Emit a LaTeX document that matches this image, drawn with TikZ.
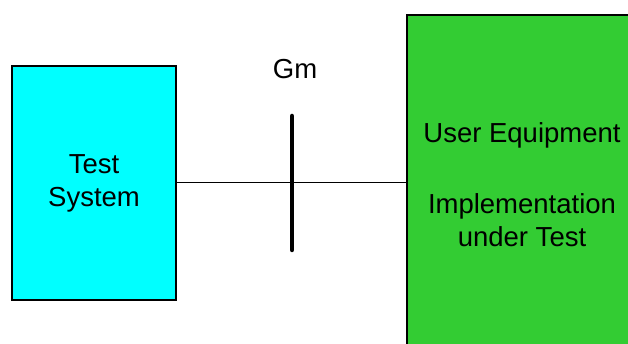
\documentclass[tikz,border=0pt]{standalone}
\usepackage{fontspec}
\setmainfont{Liberation Sans}
\definecolor{tscyan}{HTML}{00FFFF}
\definecolor{uegreen}{HTML}{33CC33}
\begin{document}
\begin{tikzpicture}[x=1pt,y=-1pt,
  boxstyle/.style={draw=black,line width=1.3pt,inner sep=0pt,align=center,
    font=\fontsize{27.5}{33}\selectfont},
  lbl/.style={font=\fontsize{27.5}{33}\selectfont,inner sep=0pt}]
\useasboundingbox (0,0) rectangle (628,344);
\node[boxstyle,fill=tscyan,minimum width=164pt,minimum height=234pt] (ts) at (94,183) {Test\\System};
\node[boxstyle,fill=uegreen,minimum width=230pt,minimum height=340pt] (ue) at (522,185)
  {User Equipment\\[38pt]Implementation\\under Test};
\coordinate (bartop) at (292,116);
\coordinate (barbot) at (292,250);
\node[lbl,anchor=base] (gm) at (295,79) {Gm};
\draw[line width=1pt] (ts.east) -- (ts.east -| ue.west);
\draw[line width=4.5pt,line cap=round] (bartop) -- (barbot);
\end{tikzpicture}
\end{document}
